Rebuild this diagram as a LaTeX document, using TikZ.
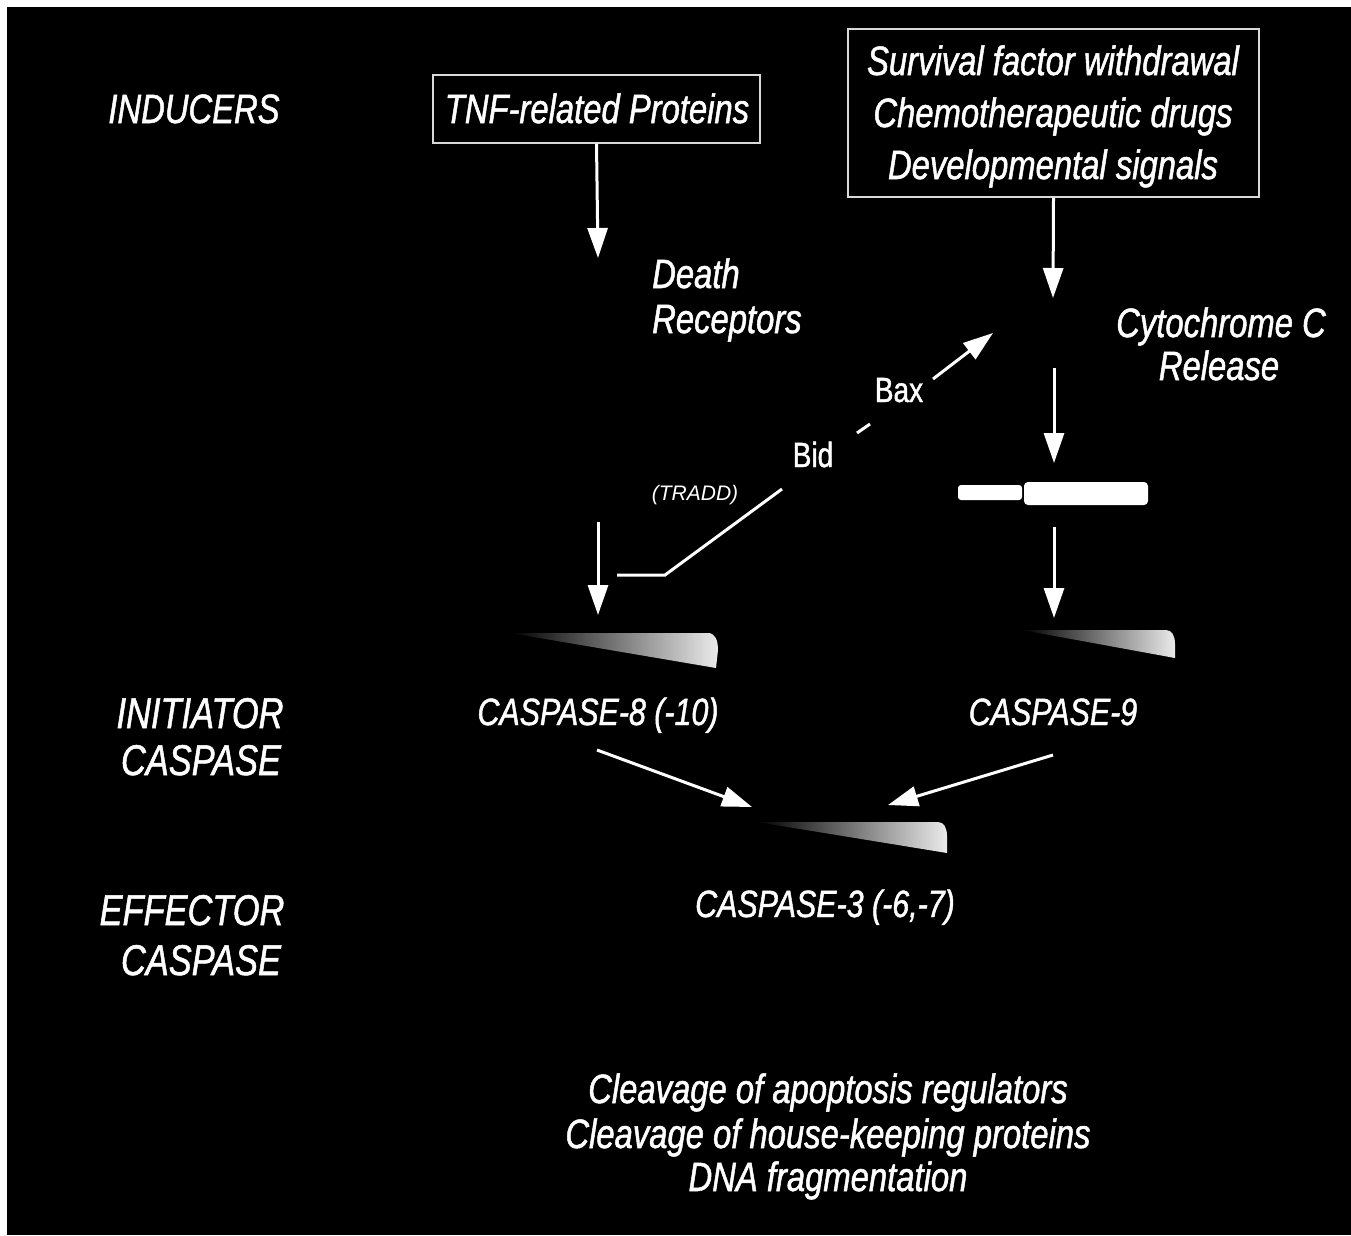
\documentclass[tikz,border=0pt]{standalone}
\usepackage{fontspec}
\setmainfont{Liberation Sans}
\newfontfamily\nar{Liberation Sans}[FakeStretch=0.8, FakeBold=1.2]
\newfontfamily\wid{Liberation Sans}
\usetikzlibrary{arrows.meta}
\begin{document}
\begin{tikzpicture}[x=1pt,y=-1pt,
  txt/.style={text=white, inner sep=0pt, anchor=base, font=\nar\itshape\fontsize{41}{50}\selectfont},
  cas/.style={txt, font=\nar\itshape\fontsize{38}{46}\selectfont},
  side/.style={txt, font=\nar\itshape\fontsize{43}{50}\selectfont},
  upr/.style={txt, font=\nar\fontsize{35}{42}\selectfont},
  sml/.style={txt, font=\wid\itshape\fontsize{21}{25}\selectfont},
  boxst/.style={draw=white!85!black, line width=1.5pt, inner sep=0pt},
  arr/.style={draw=white, line width=3pt, -{Triangle[width=20pt,length=30pt]}},
  ln/.style={draw=white, line width=3pt},
  wedge/.style={left color=black, middle color=white!50!black, right color=white!92!black, draw=none}]
% background
\fill[white] (0,0) rectangle (1351,1235);
\fill[black] (7,7) rectangle (1351,1235);
\useasboundingbox (0,0) rectangle (1351,1235);

% row labels
\node[txt] (inducers) at (194,123) {INDUCERS};
\node[side] (init1) at (200,728) {INITIATOR};
\node[side] (init2) at (201,775) {CASPASE};
\node[side] (eff1) at (192,925) {EFFECTOR};
\node[side] (eff2) at (201,975) {CASPASE};

% inducer boxes
\node[boxst, minimum width=327pt, minimum height=68pt] (tnfbox) at (596.5,109) {};
\node[txt] (tnf) at (597,123) {TNF-related Proteins};
\node[boxst, minimum width=411pt, minimum height=168pt] (survbox) at (1053.5,113) {};
\node[txt] (surv1) at (1053,75) {Survival factor withdrawal};
\node[txt] (surv2) at (1053,127) {Chemotherapeutic drugs};
\node[txt] (surv3) at (1053,179) {Developmental signals};

% intermediate labels
\node[txt, anchor=base west] (death) at (652,288) {Death};
\node[txt, anchor=base west] (recep) at (652,333) {Receptors};
\node[txt] (cyto) at (1221,337) {Cytochrome C};
\node[txt] (rel) at (1219,380) {Release};
\node[sml] (tradd) at (695,500) {(TRADD)};
\node[upr] (bid) at (813,467) {Bid};
\node[upr] (bax) at (899,402) {Bax};

% coordinates of free ends
\coordinate (drtip) at (598,258);
\coordinate (drout) at (598,522);
\coordinate (c8top) at (598,615);
\coordinate (cytip) at (1053,298);
\coordinate (cyout) at (1054,368);
\coordinate (apotop) at (1054,463);
\coordinate (apoout) at (1054,527);
\coordinate (c9top) at (1054,618);
\coordinate (c8out) at (597,750);
\coordinate (c9out) at (1053,755);
\coordinate (c3l) at (752,807);
\coordinate (c3r) at (888,805);
\coordinate (t0) at (617,575);
\coordinate (t1) at (665,575);
\coordinate (t2) at (782,489);
\coordinate (t3) at (857,433);
\coordinate (t4) at (870,424);
\coordinate (t5) at (933,379);
\coordinate (t6) at (993,333);

% arrows
\draw[arr] (tnfbox.south) -- (drtip);
\draw[arr] (survbox.south) -- (cytip);
\draw[arr] (drout) -- (c8top);
\draw[arr] (cyout) -- (apotop);
\draw[arr] (apoout) -- (c9top);
\draw[arr] (c8out) -- (c3l);
\draw[arr] (c9out) -- (c3r);
\draw[ln] (t0) -- (t1) -- (t2);
\draw[ln] (t3) -- (t4);
\draw[arr] (t5) -- (t6);

% apoptosome bars
\fill[white, rounded corners=3pt] (958,485) rectangle (1022,500);
\fill[white, rounded corners=4pt] (1024,482) rectangle (1148,505);

% caspase wedges
\shade[wedge] (510,633) -- (708,633) .. controls (715,633) and (718,640) .. (718,650) -- (716,668) -- cycle;
\shade[wedge] (1022,630) -- (1166,630) .. controls (1172,630) and (1175,636) .. (1175,644) -- (1175,658) -- cycle;
\shade[wedge] (757,822) -- (938,822) .. controls (944,822) and (947,828) .. (947,836) -- (947,853) -- cycle;

% caspase labels
\node[cas] (c8) at (598,725) {CASPASE-8 (-10)};
\node[cas] (c9) at (1053,725) {CASPASE-9};
\node[cas] (c3) at (825,917) {CASPASE-3 (-6,-7)};

% outcomes
\node[txt] (out1) at (828,1103) {Cleavage of apoptosis regulators};
\node[txt] (out2) at (828,1148) {Cleavage of house-keeping proteins};
\node[txt] (out3) at (828,1191) {DNA fragmentation};
\end{tikzpicture}
\end{document}
